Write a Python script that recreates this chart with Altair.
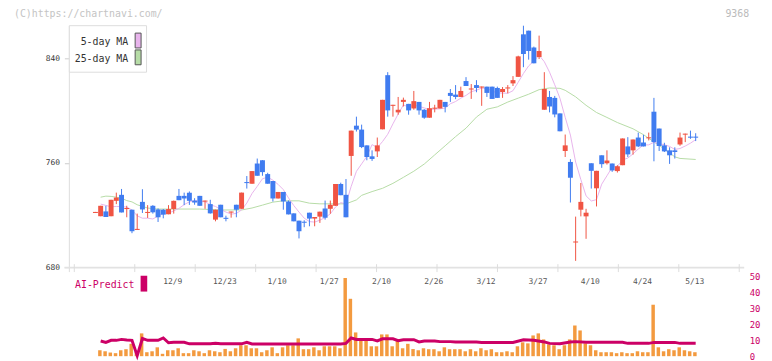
import altair as alt
import pandas as pd

# ---------------- data ----------------
# trading-day index 0 .. 115  (day 15 = 12/9, day 115 = 5/13)
opens = [
    721.5, 719.0, 722.7, 719.0, 730.8, 735.4, 724.5, 724.0, 708.5, 730.0,
    721.5, 727.0, 724.2, 724.0, 720.5, 724.5, 734.6, 734.6, 737.0, 731.0,
    734.6, 730.2, 728.3, 716.4, 727.8, 717.8, 721.8, 727.8, 724.7, 745.2,
    743.9, 759.4, 761.9, 751.3, 746.0, 732.6, 737.6, 730.3, 721.2, 715.6,
    714.8, 721.7, 717.2, 718.7, 725.0, 724.7, 727.0, 743.7, 735.4, 765.2,
    788.4, 785.4, 773.3, 764.9, 768.7, 785.6, 827.1, 803.6, 798.6, 806.6,
    805.1, 801.6, 806.6, 800.6, 794.5, 801.4, 801.6, 806.6, 813.5, 812.2,
    810.4, 822.6, 816.1, 819.5, 817.6, 818.3, 818.3, 817.3, 814.2, 816.9,
    820.8, 825.8, 858.4, 861.2, 848.3, 841.0, 800.6, 810.4, 809.7, 797.8,
    769.0, 760.6, 698.8, 724.0, 718.9, 759.6, 740.4, 765.7, 759.6, 759.4,
    753.6, 758.1, 772.5, 769.5, 779.3, 775.5, 778.7, 799.1, 786.2, 773.3,
    769.5, 769.5, 774.0, 781.5, 780.0, 780.0,
]
highs = [
    722.3, 727.0, 727.0, 731.6, 737.1, 739.9, 727.0, 724.0, 721.0, 739.7,
    727.5, 727.5, 725.0, 724.5, 727.5, 731.0, 739.9, 737.1, 738.0, 732.8,
    734.6, 731.0, 731.6, 724.0, 727.8, 719.4, 722.6, 727.8, 737.1, 749.8,
    753.6, 763.2, 762.0, 752.3, 746.0, 737.6, 737.6, 731.1, 721.2, 715.6,
    715.9, 721.7, 718.4, 722.5, 731.0, 731.0, 743.7, 744.7, 747.5, 784.6,
    795.3, 789.2, 773.3, 769.5, 779.3, 808.2, 829.4, 804.4, 810.4, 809.9,
    805.1, 815.0, 806.6, 801.1, 806.6, 804.4, 808.2, 806.6, 816.5, 819.5,
    818.3, 825.6, 820.3, 823.3, 818.4, 818.3, 818.3, 818.3, 818.0, 819.5,
    826.4, 842.0, 865.0, 861.2, 849.0, 857.4, 829.4, 815.0, 811.2, 797.8,
    781.6, 762.7, 718.7, 744.5, 724.7, 759.6, 753.8, 765.7, 769.5, 759.4,
    758.1, 778.6, 779.6, 777.8, 783.1, 781.4, 783.1, 809.7, 786.2, 775.3,
    771.8, 771.8, 783.1, 782.3, 784.6, 782.6,
]
lows = [
    721.5, 719.0, 718.4, 719.0, 728.3, 721.9, 718.2, 706.0, 708.5, 721.5,
    717.7, 721.0, 714.6, 717.4, 720.5, 721.0, 731.3, 727.5, 727.7, 727.8,
    727.0, 724.7, 721.0, 715.1, 718.2, 715.1, 717.9, 718.2, 724.7, 740.2,
    743.9, 750.0, 750.0, 743.9, 730.3, 732.6, 724.0, 720.4, 715.1, 702.0,
    710.6, 711.3, 711.3, 713.9, 716.4, 720.9, 727.0, 735.1, 718.2, 750.0,
    783.9, 771.2, 761.9, 761.4, 764.4, 785.6, 795.3, 795.3, 796.8, 803.1,
    796.8, 800.6, 796.8, 793.7, 794.5, 798.6, 801.6, 798.6, 806.6, 808.7,
    810.4, 818.8, 808.9, 814.0, 803.6, 810.4, 808.9, 809.7, 809.7, 813.2,
    818.8, 825.8, 833.2, 839.0, 836.2, 839.5, 800.6, 798.6, 794.8, 784.1,
    764.4, 729.5, 684.8, 718.9, 701.7, 740.2, 726.5, 756.1, 758.6, 753.0,
    752.5, 758.1, 764.4, 766.2, 772.0, 772.5, 777.1, 761.1, 769.0, 768.2,
    759.1, 763.2, 773.0, 775.8, 778.3, 776.6,
]
closes = [
    722.3, 727.0, 718.4, 731.6, 733.3, 721.9, 725.3, 707.5, 709.3, 724.2,
    722.3, 722.0, 718.2, 720.2, 724.5, 730.8, 731.3, 732.6, 730.8, 729.5,
    727.0, 731.0, 721.2, 724.0, 718.2, 717.0, 722.6, 724.0, 737.1, 744.4,
    753.6, 750.0, 752.8, 743.9, 732.6, 737.6, 730.3, 720.4, 715.1, 707.5,
    714.0, 717.2, 718.4, 722.5, 717.9, 727.8, 743.7, 735.1, 718.2, 784.6,
    785.4, 772.0, 764.4, 762.9, 773.3, 808.2, 800.1, 804.4, 800.6, 808.2,
    800.1, 807.2, 800.1, 794.5, 801.8, 802.2, 808.2, 802.8, 811.2, 810.4,
    815.0, 818.8, 816.9, 817.3, 818.4, 813.5, 808.9, 809.7, 816.5, 817.7,
    823.3, 841.5, 843.3, 845.6, 836.2, 845.6, 816.5, 803.1, 797.0, 784.1,
    773.3, 748.5, 699.6, 730.0, 721.7, 753.8, 753.8, 758.9, 761.7, 754.1,
    757.3, 778.6, 766.4, 777.8, 772.5, 772.5, 779.5, 775.8, 772.8, 768.7,
    765.7, 768.2, 779.3, 782.3, 779.2, 779.2,
]
ma5 = [
    None, 728.3, 727.3, 726.2, 726.5, 726.4, 726.0, 723.8, 719.3, 717.5,
    717.5, 716.9, 719.1, 721.3, 721.4, 723.1, 725.0, 727.9, 730.0, 731.0,
    730.2, 730.1, 727.8, 726.5, 724.2, 722.2, 720.6, 721.2, 723.8, 729.1,
    736.4, 741.9, 747.7, 749.0, 746.6, 743.4, 739.4, 733.0, 727.2, 722.2,
    717.5, 714.9, 714.5, 716.0, 718.0, 720.8, 726.1, 729.4, 728.5, 741.9,
    753.4, 759.1, 764.9, 773.9, 771.6, 776.2, 781.8, 789.8, 797.3, 804.3,
    802.7, 804.1, 803.2, 802.0, 800.7, 801.1, 801.3, 801.9, 805.2, 806.9,
    809.5, 811.6, 814.4, 815.6, 817.2, 816.9, 814.9, 813.5, 813.4, 813.2,
    815.2, 821.7, 828.4, 834.2, 838.0, 842.4, 837.4, 829.4, 819.7, 809.3,
    794.8, 781.2, 760.5, 747.1, 734.6, 730.7, 731.7, 743.6, 750.0, 756.5,
    757.2, 762.1, 763.6, 766.8, 770.5, 773.6, 773.7, 775.6, 774.6, 773.8,
    772.5, 770.2, 770.9, 772.8, 775.0, 777.7,
]
ma25_day = [1, 2, 3, 4, 5, 6, 7, 8, 9, 10, 11, 12, 20, 24, 28, 30, 32, 34, 36,
            39, 41, 43, 48, 50, 51, 53, 55, 57, 59, 61, 63, 65, 67, 69, 71, 73,
            75, 77, 79, 81, 83, 85, 87, 89, 90, 92, 94, 96, 98, 100, 103, 105,
            107, 109, 111, 112, 115]
ma25_val = [733.6, 734.4, 734.2, 733.6, 732.8, 731.0, 730.0, 727.8, 726.5, 725.3,
            724.8, 724.5, 724.5, 723.8, 723.8, 725.3, 727.5, 729.8, 730.8, 730.8,
            729.0, 728.5, 728.5, 731.5, 735.0, 737.9, 740.4, 744.2, 748.8, 753.5,
            759.0, 766.0, 773.0, 780.0, 786.5, 795.0, 801.0, 802.8, 806.5, 809.5,
            812.5, 816.0, 817.3, 817.0, 815.5, 810.5, 804.0, 798.5, 794.7, 790.8,
            786.0, 781.5, 776.0, 770.5, 764.5, 763.3, 762.5]
volume = [
    None, 3.75, 3.1, 2.3, 1.9, 3.75, 4.4, 7.8, 2.5, 14.4,
    2.5, 3.1, 5.6, 1.5, 3.75, 3.75, 5.0, 1.9, 1.9, 3.75,
    3.1, 1.9, 3.75, 3.1, 2.5, 4.6, 3.1, 5.0, 6.9, 6.9,
    5.0, 5.0, 2.5, 3.75, 5.6, 1.9, 5.6, 6.9, 6.9, 11.25,
    4.4, 4.4, 5.6, 3.75, 6.25, 6.25, 6.25, 5.0, 49.4, 36.25,
    15.0, 11.25, 11.25, 6.25, 6.25, 13.75, 13.75, 6.25, 10.7, 5.0,
    7.8, 4.5, 3.75, 5.0, 4.4, 4.4, 3.1, 5.6, 4.4, 4.4,
    4.4, 3.1, 4.4, 3.1, 5.0, 3.75, 4.4, 2.5, 2.5, 3.1,
    2.5, 6.25, 8.75, 8.1, 13.1, 14.4, 10.6, 7.5, 6.9, 4.4,
    6.9, 10.6, 19.4, 16.25, 8.1, 6.9, 3.75, 2.5, 2.5, 2.5,
    1.9, 2.5, 1.9, 1.9, 3.1, 2.5, 2.5, 32.5, 5.6, 3.1,
    4.4, 3.75, 5.6, 3.75, 3.1, 2.5,
]
ai_day = [1, 2, 3, 4, 5, 6, 7, 8, 9, 10, 12, 13, 14, 15, 17, 18, 22, 23, 24, 28,
          29, 30, 47, 48, 49, 50, 53, 54, 55, 57, 58, 59, 61, 62, 63, 65, 66, 68,
          69, 73, 74, 80, 82, 84, 86, 87, 89, 91, 92, 94, 101, 102, 106, 107,
          111, 112, 115]
ai_val = [9.6, 8.7, 10.0, 10.0, 10.6, 10.2, 10.0, 0.3, 11.2, 10.0, 10.0, 11.5,
          8.5, 8.75, 8.75, 7.8, 7.8, 8.1, 7.8, 7.8, 8.7, 7.7, 7.7, 8.1, 11.5,
          10.6, 10.6, 9.6, 11.0, 11.0, 9.8, 10.4, 10.4, 9.0, 9.6, 9.6, 9.2, 9.2,
          8.9, 8.9, 8.7, 8.7, 10.4, 10.0, 9.0, 8.1, 7.8, 9.0, 9.2, 8.75, 8.75,
          8.1, 8.1, 8.7, 8.7, 8.1, 8.1]
date_labels = ["12/9", "12/23", "1/10", "1/27", "2/10", "2/26", "3/12",
               "3/27", "4/10", "4/24", "5/13"]
date_label_day = [15, 25, 35, 45, 55, 65, 75, 85, 95, 105, 115]
price_ticks = [680, 760, 840]
vol_ticks = [0, 10, 20, 30, 40, 50]

# ---------------- styling ----------------
FONT = "DejaVu Sans Mono"
UP = "#f05443"
DOWN = "#407cf0"
ORANGE = "#f39a3f"
CRIMSON = "#cc0066"
MA5_C = "#e8b4ec"
MA25_C = "#b6dca6"

W, H = 682, 350
XD = [-4.05, 123.35]
PD = [611.75, 877.16]
VD = [0, 218.75]

xs = alt.Scale(domain=XD, nice=False, zero=False)
ps = alt.Scale(domain=PD, nice=False, zero=False)
vs = alt.Scale(domain=VD, nice=False, zero=False)

p_axis = alt.Axis(values=price_ticks, domain=False, grid=False, tickSize=5,
                  tickColor="#cccccc", labelFont=FONT, labelFontSize=8,
                  labelColor="#333333", labelPadding=5, title="", format="d")
v_axis = alt.Axis(orient="right", values=vol_ticks, domain=False, grid=False,
                  ticks=False, labelFont=FONT, labelFontSize=9,
                  labelColor=CRIMSON, labelPadding=5, title="", format="d")


def X(field):
    return alt.X(field, type="quantitative", scale=xs, axis=None)


def PY(field):
    return alt.Y(field, type="quantitative", scale=ps, axis=p_axis)


def VY(field):
    return alt.Y(field, type="quantitative", scale=vs, axis=v_axis)


n = len(closes)
candles = pd.DataFrame({"day": list(range(n)), "open": opens, "high": highs,
                        "low": lows, "close": closes})
candles["dir"] = ["up" if c >= o else "down" for o, c in zip(opens, closes)]
cscale = alt.Scale(domain=["up", "down"], range=[UP, DOWN])

wick = alt.Chart(candles).mark_rule(strokeWidth=1).encode(
    x=X("day"), y=PY("low"), y2="high",
    color=alt.Color("dir:N", scale=cscale, legend=None))
body = alt.Chart(candles).mark_bar(size=5).encode(
    x=X("day"), y=PY("open"), y2="close",
    color=alt.Color("dir:N", scale=cscale, legend=None))

ma5_df = pd.DataFrame({"day": list(range(n)), "ma": ma5}).dropna()
ma5_line = alt.Chart(ma5_df).mark_line(color=MA5_C, strokeWidth=1).encode(
    x=X("day"), y=PY("ma"))
ma25_df = pd.DataFrame({"day": ma25_day, "ma": ma25_val})
ma25_line = alt.Chart(ma25_df).mark_line(color=MA25_C, strokeWidth=1).encode(
    x=X("day"), y=PY("ma"))

one = pd.DataFrame({"v": [0]})


def txt(text, px, py, size, color, align="left"):
    return alt.Chart(one).mark_text(
        text=text, font=FONT, fontSize=size, color=color, align=align,
        baseline="middle").encode(x=alt.value(px), y=alt.value(py))


def box(x1, x2, y1, y2, fill, stroke, sw=1):
    return alt.Chart(one).mark_rect(fill=fill, stroke=stroke, strokeWidth=sw).encode(
        x=alt.value(x1), x2=alt.value(x2), y=alt.value(y1), y2=alt.value(y2))


def hline(x1, x2, y, color, sw=1):
    return alt.Chart(one).mark_rule(color=color, strokeWidth=sw).encode(
        x=alt.value(x1), x2=alt.value(x2), y=alt.value(y))


def vline(x, y1, y2, color, sw=1):
    return alt.Chart(one).mark_rule(color=color, strokeWidth=sw).encode(
        x=alt.value(x), y=alt.value(y1), y2=alt.value(y2))


tick_df = pd.DataFrame({"t": [XD[0] + j * (XD[1] - XD[0]) / 11 for j in range(12)]})
x_ticks = alt.Chart(tick_df).mark_rule(color="#dddddd", strokeWidth=1).encode(
    x=X("t"), y=alt.value(257), y2=alt.value(265))

lab_df = pd.DataFrame({"day": date_label_day, "lab": date_labels})
date_text = alt.Chart(lab_df).mark_text(
    font=FONT, fontSize=8, color="#555555", baseline="middle", dx=-1).encode(
    x=X("day"), y=alt.value(275), text="lab:N")

decor = [
    vline(0, 16, 265, "#dddddd"),
    hline(-5, 682, 260.5, "#e2e2e2", 2),
    x_ticks,
    date_text,
    txt("(C)https://chartnavi.com/", -56, 4, 10, "#c4c4c4"),
    txt("9368", 687, 4, 10, "#bbbbbb", align="right"),
    box(0, 78, 16, 63, "white", "#dddddd"),
    txt("5-day MA", 59.5, 32.7, 10, "#333333", align="right"),
    txt("25-day MA", 59.5, 49.3, 10, "#333333", align="right"),
    box(66.5, 72.5, 23.5, 38.5, MA5_C, "#555555"),
    box(66.5, 72.5, 40.5, 55.5, MA25_C, "#555555"),
    txt("AI-Predict", 5.7, 278, 10, CRIMSON),
    box(72, 78.7, 268.7, 284.7, CRIMSON, CRIMSON, 0),
]

price_layer = alt.layer(ma25_line, ma5_line, wick, body, *decor)

vol_df = pd.DataFrame({"day": list(range(n)), "vol": volume}).dropna()
vol_bars = alt.Chart(vol_df).transform_calculate(
    pos="datum.day - 0.15").mark_bar(size=3.5, color=ORANGE).encode(
    x=X("pos"), y=VY("vol"))
ai_df = pd.DataFrame({"day": ai_day, "ai": ai_val})
ai_line = alt.Chart(ai_df).mark_line(color=CRIMSON, strokeWidth=3).encode(
    x=X("day"), y=VY("ai"))
vol_layer = alt.layer(vol_bars, ai_line)

chart = alt.layer(price_layer, vol_layer).resolve_scale(y="independent").properties(
    width=W, height=H,
    padding={"left": 62, "top": 0, "right": 20, "bottom": 3},
    autosize=alt.AutoSizeParams(type="none"),
    background="white",
).configure_view(strokeOpacity=0)

chart.save("out.html", embed_options={"renderer": "svg", "actions": False})
